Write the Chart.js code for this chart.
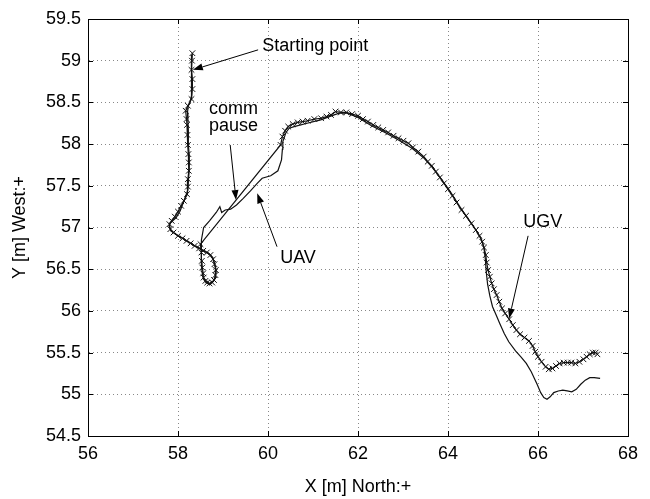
<!DOCTYPE html>
<html>
<head>
<meta charset="utf-8">
<script src="https://cdn.jsdelivr.net/npm/chart.js@4"></script>
<style>
  body { margin: 0; background: #fff; }
  canvas { display: block; }
</style>
</head>
<body>
<canvas id="track" width="650" height="499"></canvas>
<script>
// --- data ---
const xTicks = [56, 58, 60, 62, 64, 66, 68];
const yTicks = [54.5, 55, 55.5, 56, 56.5, 57, 57.5, 58, 58.5, 59, 59.5];

// UGV track (plotted with x markers)
const ugvX = [58.32, 58.31, 58.30, 58.32, 58.32, 58.30, 58.22, 58.17, 58.19, 58.20, 58.21, 58.22, 58.23, 58.24, 58.24, 58.22, 58.22, 58.20,
  58.13, 58.07, 58.00, 57.93, 57.86, 57.81, 57.83, 57.90, 58.00, 58.10, 58.19, 58.28, 58.37, 58.47, 58.56, 58.64, 58.72, 58.78,
  58.81, 58.84, 58.83, 58.80, 58.76, 58.70, 58.65, 58.61, 58.57, 58.56, 58.54, 58.53, 58.52, 58.50,
  60.28, 60.32, 60.38, 60.45, 60.55, 60.66, 60.77, 60.88, 61.03, 61.18, 61.30, 61.40, 61.50, 61.62, 61.74, 61.87, 62.00,
  62.11, 62.22, 62.34, 62.45, 62.56, 62.67, 62.79, 62.90, 63.01, 63.12, 63.22, 63.34, 63.46, 63.55, 63.64, 63.73, 63.82,
  63.91, 64.00, 64.10, 64.19, 64.30, 64.40, 64.52, 64.62, 64.70, 64.76, 64.80, 64.84, 64.86, 64.89, 64.93, 64.97, 65.02,
  65.08, 65.14, 65.20, 65.27, 65.36, 65.44, 65.52, 65.60, 65.70, 65.80, 65.88, 65.94, 66.00, 66.08, 66.17, 66.24, 66.32,
  66.40, 66.48, 66.57, 66.66, 66.74, 66.83, 66.92, 67.01, 67.08, 67.15, 67.22, 67.28, 67.32];
const ugvY = [59.09, 59.00, 58.89, 58.78, 58.66, 58.54, 58.46, 58.40, 58.30, 58.23, 58.11, 57.99, 57.88, 57.78, 57.68, 57.58, 57.49, 57.40,
  57.32, 57.26, 57.19, 57.13, 57.08, 57.04, 56.98, 56.94, 56.90, 56.87, 56.84, 56.81, 56.78, 56.75, 56.72, 56.70, 56.67, 56.62,
  56.56, 56.49, 56.43, 56.37, 56.34, 56.33, 56.34, 56.36, 56.40, 56.45, 56.52, 56.60, 56.70, 56.80,
  57.99, 58.09, 58.16, 58.21, 58.24, 58.26, 58.27, 58.28, 58.30, 58.31, 58.33, 58.35, 58.39, 58.38, 58.38, 58.36, 58.34,
  58.30, 58.27, 58.23, 58.20, 58.17, 58.14, 58.10, 58.07, 58.04, 58.01, 57.96, 57.91, 57.85, 57.79, 57.74, 57.67, 57.60,
  57.53, 57.46, 57.38, 57.30, 57.21, 57.14, 57.05, 56.97, 56.90, 56.83, 56.76, 56.67, 56.58, 56.49, 56.41, 56.33, 56.26,
  56.19, 56.11, 56.03, 55.97, 55.90, 55.83, 55.77, 55.72, 55.68, 55.64, 55.58, 55.51, 55.45, 55.39, 55.33, 55.30, 55.31,
  55.34, 55.37, 55.38, 55.38, 55.38, 55.37, 55.39, 55.42, 55.45, 55.48, 55.50, 55.50, 55.48];

// UAV track (plain line)
const uavX = [58.30, 58.29, 58.30, 58.31, 58.30, 58.27, 58.23, 58.21, 58.22, 58.23, 58.23, 58.25, 58.25, 58.23, 58.22, 58.16,
  58.05, 57.96, 57.84, 57.80, 57.84, 57.95, 58.10, 58.25, 58.40, 58.55, 58.68, 58.77, 58.82, 58.85, 58.83, 58.78, 58.70,
  58.62, 58.57, 58.54, 58.52, 58.52, 58.52, 58.57, 58.70, 58.85, 58.93, 58.97, 59.05, 59.17, 59.30, 59.45, 59.61, 59.76,
  59.87, 60.06, 60.22, 60.30, 60.32, 60.33, 60.40, 60.47, 60.58, 60.87, 61.17, 61.47, 61.58, 61.76, 62.00, 62.30, 62.60,
  62.90, 63.20, 63.45, 63.65, 63.85, 64.05, 64.25, 64.45, 64.62, 64.74, 64.80, 64.83, 64.85, 64.88, 64.93, 64.99, 65.07,
  65.15, 65.25, 65.35, 65.50, 65.62, 65.74, 65.85, 65.92, 65.98, 66.06, 66.13, 66.20, 66.27, 66.35, 66.45, 66.55, 66.65,
  66.75, 66.85, 66.95, 67.05, 67.15, 67.25, 67.38];
const uavY = [59.07, 58.95, 58.82, 58.70, 58.58, 58.50, 58.46, 58.38, 58.28, 58.15, 58.00, 57.85, 57.70, 57.55, 57.45, 57.36,
  57.20, 57.12, 57.06, 57.02, 56.96, 56.92, 56.87, 56.82, 56.77, 56.73, 56.69, 56.64, 56.56, 56.48, 56.40, 56.35, 56.32,
  56.34, 56.38, 56.45, 56.55, 56.70, 56.85, 57.00, 57.08, 57.18, 57.25, 57.18, 57.21, 57.22, 57.27, 57.35, 57.44, 57.53,
  57.59, 57.62, 57.68, 57.81, 57.94, 58.03, 58.14, 58.19, 58.21, 58.25, 58.29, 58.35, 58.37, 58.37, 58.32, 58.22, 58.14,
  58.05, 57.95, 57.84, 57.72, 57.58, 57.43, 57.26, 57.10, 56.97, 56.86, 56.75, 56.62, 56.47, 56.32, 56.18, 56.05, 55.95,
  55.85, 55.73, 55.63, 55.52, 55.45, 55.37, 55.27, 55.19, 55.12, 55.02, 54.96, 54.94, 54.97, 55.02, 55.04, 55.05, 55.04,
  55.03, 55.06, 55.12, 55.17, 55.20, 55.20, 55.19];

// text labels with arrows, in data units
const notes = [
  { lines: ['Starting point'], at: [59.87, 59.18], from: [59.78, 59.13], to: [58.33, 58.89] },
  { lines: ['comm', 'pause'], at: [58.69, 58.42], from: [59.16, 57.99], to: [59.29, 57.33] },
  { lines: ['UAV'], at: [60.27, 56.63], from: [60.20, 56.77], to: [59.76, 57.41] },
  { lines: ['UGV'], at: [65.67, 57.07], from: [65.78, 56.90], to: [65.36, 55.91] }
];

const FONT = 'Liberation Sans, Arial, Helvetica, sans-serif';
const toPoints = (xs, ys) => xs.map((x, i) => ({ x: x, y: ys[i] }));

// box, inward ticks and the annotations
const matlabAxes = {
  id: 'matlabAxes',
  afterDatasetsDraw(chart) {
    const { ctx, chartArea: a, scales: { x, y } } = chart;
    ctx.save();
    ctx.strokeStyle = '#000';
    ctx.lineWidth = 1;
    ctx.strokeRect(Math.round(a.left) + 0.5, Math.round(a.top) + 0.5,
      Math.round(a.right - a.left), Math.round(a.bottom - a.top));
    const tl = 5;
    ctx.beginPath();
    xTicks.forEach(v => {
      const px = Math.round(x.getPixelForValue(v)) + 0.5;
      ctx.moveTo(px, a.bottom); ctx.lineTo(px, a.bottom - tl);
      ctx.moveTo(px, a.top); ctx.lineTo(px, a.top + tl);
    });
    yTicks.forEach(v => {
      const py = Math.round(y.getPixelForValue(v)) + 0.5;
      ctx.moveTo(a.left, py); ctx.lineTo(a.left + tl, py);
      ctx.moveTo(a.right, py); ctx.lineTo(a.right - tl, py);
    });
    ctx.stroke();

    ctx.fillStyle = '#000';
    ctx.font = '18px ' + FONT;
    ctx.textBaseline = 'middle';
    ctx.textAlign = 'left';
    notes.forEach(n => {
      const tx = x.getPixelForValue(n.at[0]);
      const ty = y.getPixelForValue(n.at[1]);
      n.lines.forEach((t, i) => ctx.fillText(t, tx, ty + i * 17));

      const x1 = x.getPixelForValue(n.from[0]), y1 = y.getPixelForValue(n.from[1]);
      const x2 = x.getPixelForValue(n.to[0]), y2 = y.getPixelForValue(n.to[1]);
      const ang = Math.atan2(y2 - y1, x2 - x1);
      const len = 10, hw = 3.5;
      ctx.beginPath();
      ctx.moveTo(x1, y1);
      ctx.lineTo(x2 - len * Math.cos(ang), y2 - len * Math.sin(ang));
      ctx.stroke();
      ctx.beginPath();
      ctx.moveTo(x2, y2);
      ctx.lineTo(x2 - len * Math.cos(ang) + hw * Math.sin(ang), y2 - len * Math.sin(ang) - hw * Math.cos(ang));
      ctx.lineTo(x2 - len * Math.cos(ang) - hw * Math.sin(ang), y2 - len * Math.sin(ang) + hw * Math.cos(ang));
      ctx.closePath();
      ctx.fill();
    });
    ctx.restore();
  }
};

new Chart(document.getElementById('track'), {
  type: 'scatter',
  data: {
    datasets: [
      {
        label: 'UAV',
        data: toPoints(uavX, uavY),
        showLine: true,
        borderColor: '#111',
        borderWidth: 1.2,
        pointRadius: 0,
        tension: 0
      },
      {
        label: 'UGV',
        data: toPoints(ugvX, ugvY),
        showLine: true,
        borderColor: '#111',
        borderWidth: 1.2,
        pointStyle: 'crossRot',
        pointRadius: 4,
        pointBorderColor: '#111',
        pointBorderWidth: 1,
        tension: 0
      }
    ]
  },
  options: {
    responsive: false,
    animation: false,
    layout: { padding: { left: 0, right: 22, top: 19, bottom: 0 } },
    plugins: { legend: { display: false }, tooltip: { enabled: false } },
    scales: {
      x: {
        type: 'linear',
        min: 56, max: 68,
        afterBuildTicks: s => { s.ticks = xTicks.map(v => ({ value: v })); },
        afterFit: s => { s.height = 63; },
        ticks: { color: '#000', padding: 7, font: { family: FONT, size: 18 }, callback: v => String(v) },
        grid: { color: '#888', drawTicks: false },
        border: { color: '#000', dash: [1, 3] },
        title: { display: true, text: 'X [m] North:+', color: '#000', font: { family: FONT, size: 18 }, padding: { top: 0, bottom: 1 } }
      },
      y: {
        type: 'linear',
        min: 54.5, max: 59.5,
        afterBuildTicks: s => { s.ticks = yTicks.map(v => ({ value: v })); },
        afterFit: s => { s.width = 88; },
        ticks: { color: '#000', padding: 7, font: { family: FONT, size: 18 }, callback: v => String(v) },
        grid: { color: '#888', drawTicks: false },
        border: { color: '#000', dash: [1, 3] },
        title: { display: true, text: 'Y [m] West:+', color: '#000', font: { family: FONT, size: 18 }, padding: { top: 9, bottom: 0 } }
      }
    }
  },
  plugins: [matlabAxes]
});
</script>
</body>
</html>
